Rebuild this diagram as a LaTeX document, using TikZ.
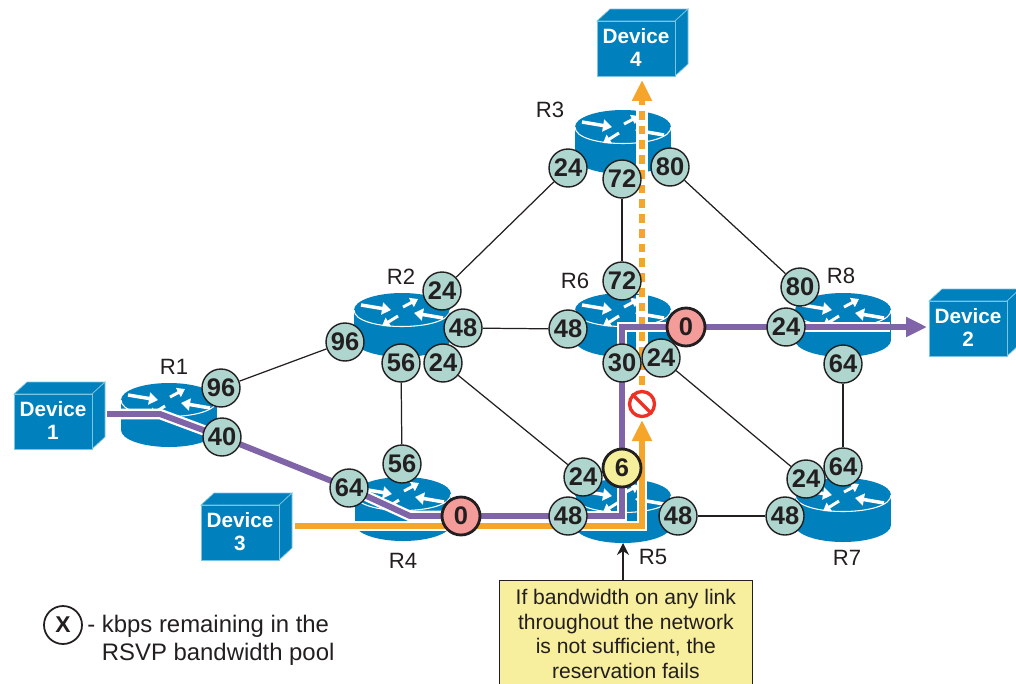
\documentclass[tikz,border=0pt]{standalone}
\usepackage{fontspec}
\setmainfont{Liberation Sans}
\usetikzlibrary{arrows.meta}
\pgfdeclarelayer{routers}
\pgfdeclarelayer{paths}
\pgfsetlayers{routers,paths,main}
\definecolor{ciscoblue}{HTML}{0080BC}
\definecolor{edgeblue}{HTML}{7CC4E4}
\definecolor{pathpurple}{HTML}{8064A8}
\definecolor{pathorange}{HTML}{F5A52A}
\definecolor{bwgreen}{HTML}{AFD6CE}
\definecolor{bwred}{HTML}{F49C9A}
\definecolor{bwyellow}{HTML}{F5EF9B}
\definecolor{notered}{HTML}{F7EE9E}
\definecolor{inkblack}{HTML}{231F20}
\definecolor{stopred}{HTML}{EE3124}
\tikzset{
	bw/.style={circle, draw=inkblack, line width=0.8pt, fill=bwgreen, text=inkblack, inner sep=0pt, minimum size=0.76cm, font=\fontsize{14.5}{14.5}\selectfont\bfseries},
	bwzero/.style={bw, fill=bwred, line width=1.6pt},
	bwlow/.style={bw, fill=bwyellow, line width=1.6pt},
	rlabel/.style={text=inkblack, font=\fontsize{12.6}{12.6}\selectfont},
	devlabel/.style={text=white, align=center, font=\fontsize{11.8}{13.4}\selectfont\bfseries},
	link/.style={color=inkblack, line width=0.7pt},
	pathline/.style={line width=3.4pt},
	casing/.style={color=white, line width=6pt},
	pathtip/.style={-{Triangle[length=0.42cm,width=0.38cm]}},
	bigarrow/.style={color=white, line width=2pt, -{Triangle[length=0.18cm,width=0.24cm]}},
	smallarrow/.style={color=white, line width=1.7pt, -{Triangle[length=0.15cm,width=0.2cm]}},
}
% router: nome, x, y
\newcommand{\router}[3]{
	\coordinate (#1) at (#2,#3);
	\begin{scope}[shift={(#2,#3)}]
		\fill[color=ciscoblue] (0,30) ellipse [x radius=48, y radius=17];
		\fill[color=ciscoblue] (-48,0) rectangle (48,30);
		\fill[color=ciscoblue] (0,0) ellipse [x radius=48, y radius=17];
		\draw[color=white, line width=0.6pt] (-48,0) .. controls (-48,22) and (48,22) .. (48,0);
		\draw[bigarrow] (-41,-5) -- (-11,0);
		\draw[smallarrow] (1,-3) -- (16,-11);
		\draw[bigarrow] (41,8) -- (12,3);
		\draw[smallarrow] (-4,6) -- (-20,16);
	\end{scope}
}
% device: nome, x, y, testo
\newcommand{\device}[4]{
	\begin{scope}[shift={(#2,#3)}, draw=edgeblue, fill=ciscoblue, line width=0.4pt]
		\filldraw (0,0) -- (13,-12) -- (91,-12) -- (78,0) -- cycle;
		\filldraw (78,0) -- (91,-12) -- (91,43) -- (78,55) -- cycle;
		\filldraw (0,0) rectangle (78,55);
	\end{scope}
	\node[devlabel] (#1) at (#2+39,#3+26.5) {Device\\#4};
}
\begin{document}
\begin{tikzpicture}[x=0.02cm, y=-0.02cm]
	\useasboundingbox (0,0) rectangle (1016,683);

	% apparati
	\device{dev1}{14}{394}{1}
	\device{dev2}{929}{301}{2}
	\device{dev3}{201}{505}{3}
	\device{dev4}{597}{21}{4}

	% router
	\begin{pgfonlayer}{routers}
		\router{r1}{169}{400}
		\router{r2}{402}{310}
		\router{r3}{623}{127}
		\router{r4}{403}{494}
		\router{r5}{623}{496}
		\router{r6}{623}{310}
		\router{r7}{843}{495}
		\router{r8}{843}{310}
	\end{pgfonlayer}

	\node[rlabel] (l1) at (174,367) {R1};
	\node[rlabel] (l2) at (401,277) {R2};
	\node[rlabel] (l3) at (550,110) {R3};
	\node[rlabel] (l4) at (403,561) {R4};
	\node[rlabel] (l5) at (653,557) {R5};
	\node[rlabel] (l6) at (575,281) {R6};
	\node[rlabel] (l7) at (847,558) {R7};
	\node[rlabel] (l8) at (841,276) {R8};

	% banda residua
	\node[bw] (r1up) at (221,388) {96};
	\node[bw] (r1dn) at (222,437) {40};
	\node[bw] (r2w) at (345,342) {96};
	\node[bw] (r2n) at (442,291) {24};
	\node[bw] (r2e) at (463,328) {48};
	\node[bw] (r2se) at (443,363) {24};
	\node[bw] (r2s) at (401,363) {56};
	\node[bw] (r3w) at (568,168) {24};
	\node[bw] (r3s) at (622,179) {72};
	\node[bw] (r3e) at (670,167) {80};
	\node[bw] (r4n) at (402,464) {56};
	\node[bw] (r4w) at (349,488) {64};
	\node[bwzero] (r4e) at (461,516) {0};
	\node[bw] (r5nw) at (583,477) {24};
	\node[bwlow] (r5n) at (622,468) {6};
	\node[bw] (r5w) at (568,516) {48};
	\node[bw] (r5e) at (678,516) {48};
	\node[bw] (r6n) at (622,281) {72};
	\node[bw] (r6w) at (568,329) {48};
	\node[bw] (r6s) at (622,363) {30};
	\node[bw] (r6se) at (661,358) {24};
	\node[bwzero] (r6e) at (686,327) {0};
	\node[bw] (r7nw) at (806,479) {24};
	\node[bw] (r7n) at (843,467) {64};
	\node[bw] (r7w) at (785,516) {48};
	\node[bw] (r8nw) at (800,287) {80};
	\node[bw] (r8w) at (786,327) {24};
	\node[bw] (r8s) at (843,364) {64};

	% collegamenti
	\draw[link] (r1up) -- (r2w);
	\draw[link] (r2n) -- (r3w);
	\draw[link] (r3s) -- (r6n);
	\draw[link] (r3e) -- (r8nw);
	\draw[link] (r2e) -- (r6w);
	\draw[link] (r2s) -- (r4n);
	\draw[link] (r2se) -- (r5nw);
	\draw[link] (r6se) -- (r7nw);
	\draw[link] (r8s) -- (r7n);
	\draw[link] (r5e) -- (r7w);

	% percorsi
	\coordinate (purple0) at (107,414);
	\coordinate (purple1) at (160,414);
	\coordinate (purple2) at (410,516);
	\coordinate (purple3) at (622,516);
	\coordinate (purple4) at (622,327);
	\coordinate (purple5) at (927,327);
	\coordinate (orange0) at (295,526);
	\coordinate (orange1) at (642,526);
	\coordinate (orange2) at (642,420);
	\coordinate (orange3) at (642,400);
	\coordinate (orange4) at (642,80);
	\coordinate (casea) at (121,414);
	\coordinate (caseb) at (354,526);
	\coordinate (casec) at (642,478);
	\coordinate (cased) at (622,480);
	\coordinate (casee) at (622,355);
	\coordinate (casef) at (890,327);
	\coordinate (caseg) at (642,360);
	\coordinate (caseh) at (642,295);
	\coordinate (casei) at (642,175);
	\coordinate (casej) at (642,110);

	\begin{pgfonlayer}{paths}
		\draw[casing] (casea) -- (purple1) -- (r1dn.center);
		\draw[casing] (r4w.center) -- (purple2) -- (r4e.center);
		\draw[casing] (caseb) -- (orange1) -- (casec);
		\draw[casing] (r5w.center) -- (purple3) -- (cased);
		\draw[casing] (casee) -- (purple4) -- (r6e.center);
		\draw[casing] (r8w.center) -- (casef);
		\draw[casing, line width=7pt] (caseg) -- (caseh);
		\draw[casing, line width=7pt] (casei) -- (casej);

		\draw[color=pathorange, pathline, pathtip] (orange0) -- (orange1) -- (orange2);
		\draw[color=pathorange, pathline, dash pattern=on 5pt off 3.4pt, pathtip] (orange3) -- (orange4);
		\draw[color=pathpurple, pathline, line join=miter, pathtip] (purple0) -- (purple1) -- (r1dn.center) -- (r4w.center) -- (purple2) -- (purple3) -- (purple4) -- (purple5);
	\end{pgfonlayer}

	% divieto
	\node[circle, draw=stopred, fill=white, line width=1.9pt, inner sep=0pt, minimum size=0.5cm] (stop) at (642,404) {};
	\draw[color=stopred, line width=1.9pt] (stop.135) -- (stop.315);

	% nota
	\node[draw=inkblack, line width=0.4pt, fill=notered, minimum width=5.06cm, minimum height=2.14cm, inner sep=0pt, align=center, text=inkblack, font=\fontsize{12}{13.9}\selectfont, anchor=north west] (note) at (499,580) {If bandwidth on any link\\throughout the network\\is not sufficient, the\\reservation fails};
	\draw[color=inkblack, line width=0.7pt, -{Stealth[length=0.24cm,width=0.24cm]}] (note.north -| r5) -- (623,543);

	% legenda
	\node[bw, fill=white, line width=1pt, font=\fontsize{13}{13}\selectfont\bfseries] (legend) at (63,625) {X};
	\node[text=inkblack, anchor=north west, align=left, font=\fontsize{13.6}{15.6}\selectfont, inner sep=0pt] (legendtext) at (87,615) {- kbps remaining in the\\\phantom{- }RSVP bandwidth pool};
\end{tikzpicture}
\end{document}
